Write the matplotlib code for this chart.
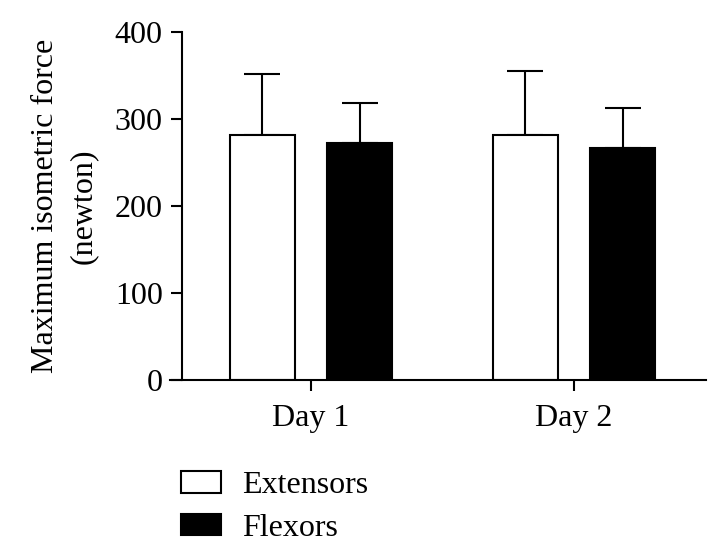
import numpy as np
import matplotlib
matplotlib.use("Agg")
import matplotlib.pyplot as plt
from matplotlib.patches import Patch

# valores (newton)
dias = ["Day 1", "Day 2"]
extensores = [282, 282]
extensores_dp = [70, 73]
flexores = [272, 267]
flexores_dp = [46, 46]

plt.rcParams["font.family"] = ["Liberation Serif", "DejaVu Serif"]
plt.rcParams["font.size"] = 23

W, H = 727, 558
fig = plt.figure(figsize=(W / 100, H / 100), dpi=100)
ax = fig.add_axes([170 / W, 1 - 380 / H, (706 - 170) / W, (380 - 32) / H])

x = np.arange(len(dias))
largura = 0.247
desloc = 0.186
lw = 1.5

ax.errorbar(x - desloc, extensores, yerr=[np.zeros(len(x)), extensores_dp],
            fmt="none", ecolor="black", elinewidth=lw, capsize=13, capthick=lw, zorder=1)
ax.errorbar(x + desloc, flexores, yerr=[np.zeros(len(x)), flexores_dp],
            fmt="none", ecolor="black", elinewidth=lw, capsize=13, capthick=lw, zorder=1)
ax.bar(x - desloc, extensores, largura, color="white", edgecolor="black", linewidth=lw, zorder=2)
ax.bar(x + desloc, flexores, largura, color="black", edgecolor="black", linewidth=lw, zorder=2)

ax.set_xlim(-0.536, 1.502)
ax.set_ylim(0, 400)
ax.set_yticks([0, 100, 200, 300, 400])
ax.set_xticks(x)
ax.set_xticklabels(dias)

for s in ["top", "right"]:
    ax.spines[s].set_visible(False)
ax.spines["left"].set_position(("data", -0.490))
ax.spines["left"].set_linewidth(lw)
ax.spines["bottom"].set_linewidth(lw)
ax.tick_params(axis="both", direction="out", length=8, width=lw, pad=6)
ax.tick_params(axis="x", pad=9)

ax.set_ylabel("Maximum isometric force\n(newton)", linespacing=1.4, labelpad=12)

handles = [Patch(facecolor="white", edgecolor="black", linewidth=lw, label="Extensors"),
           Patch(facecolor="black", edgecolor="black", linewidth=lw, label="Flexors")]
fig.legend(handles=handles, loc="upper left", bbox_to_anchor=(181 / W, 1 - 471 / H),
           frameon=False, borderpad=0, borderaxespad=0, handlelength=1.25,
           handleheight=0.66, handletextpad=0.66, labelspacing=0.43)

fig.savefig("out.png", dpi=100)
